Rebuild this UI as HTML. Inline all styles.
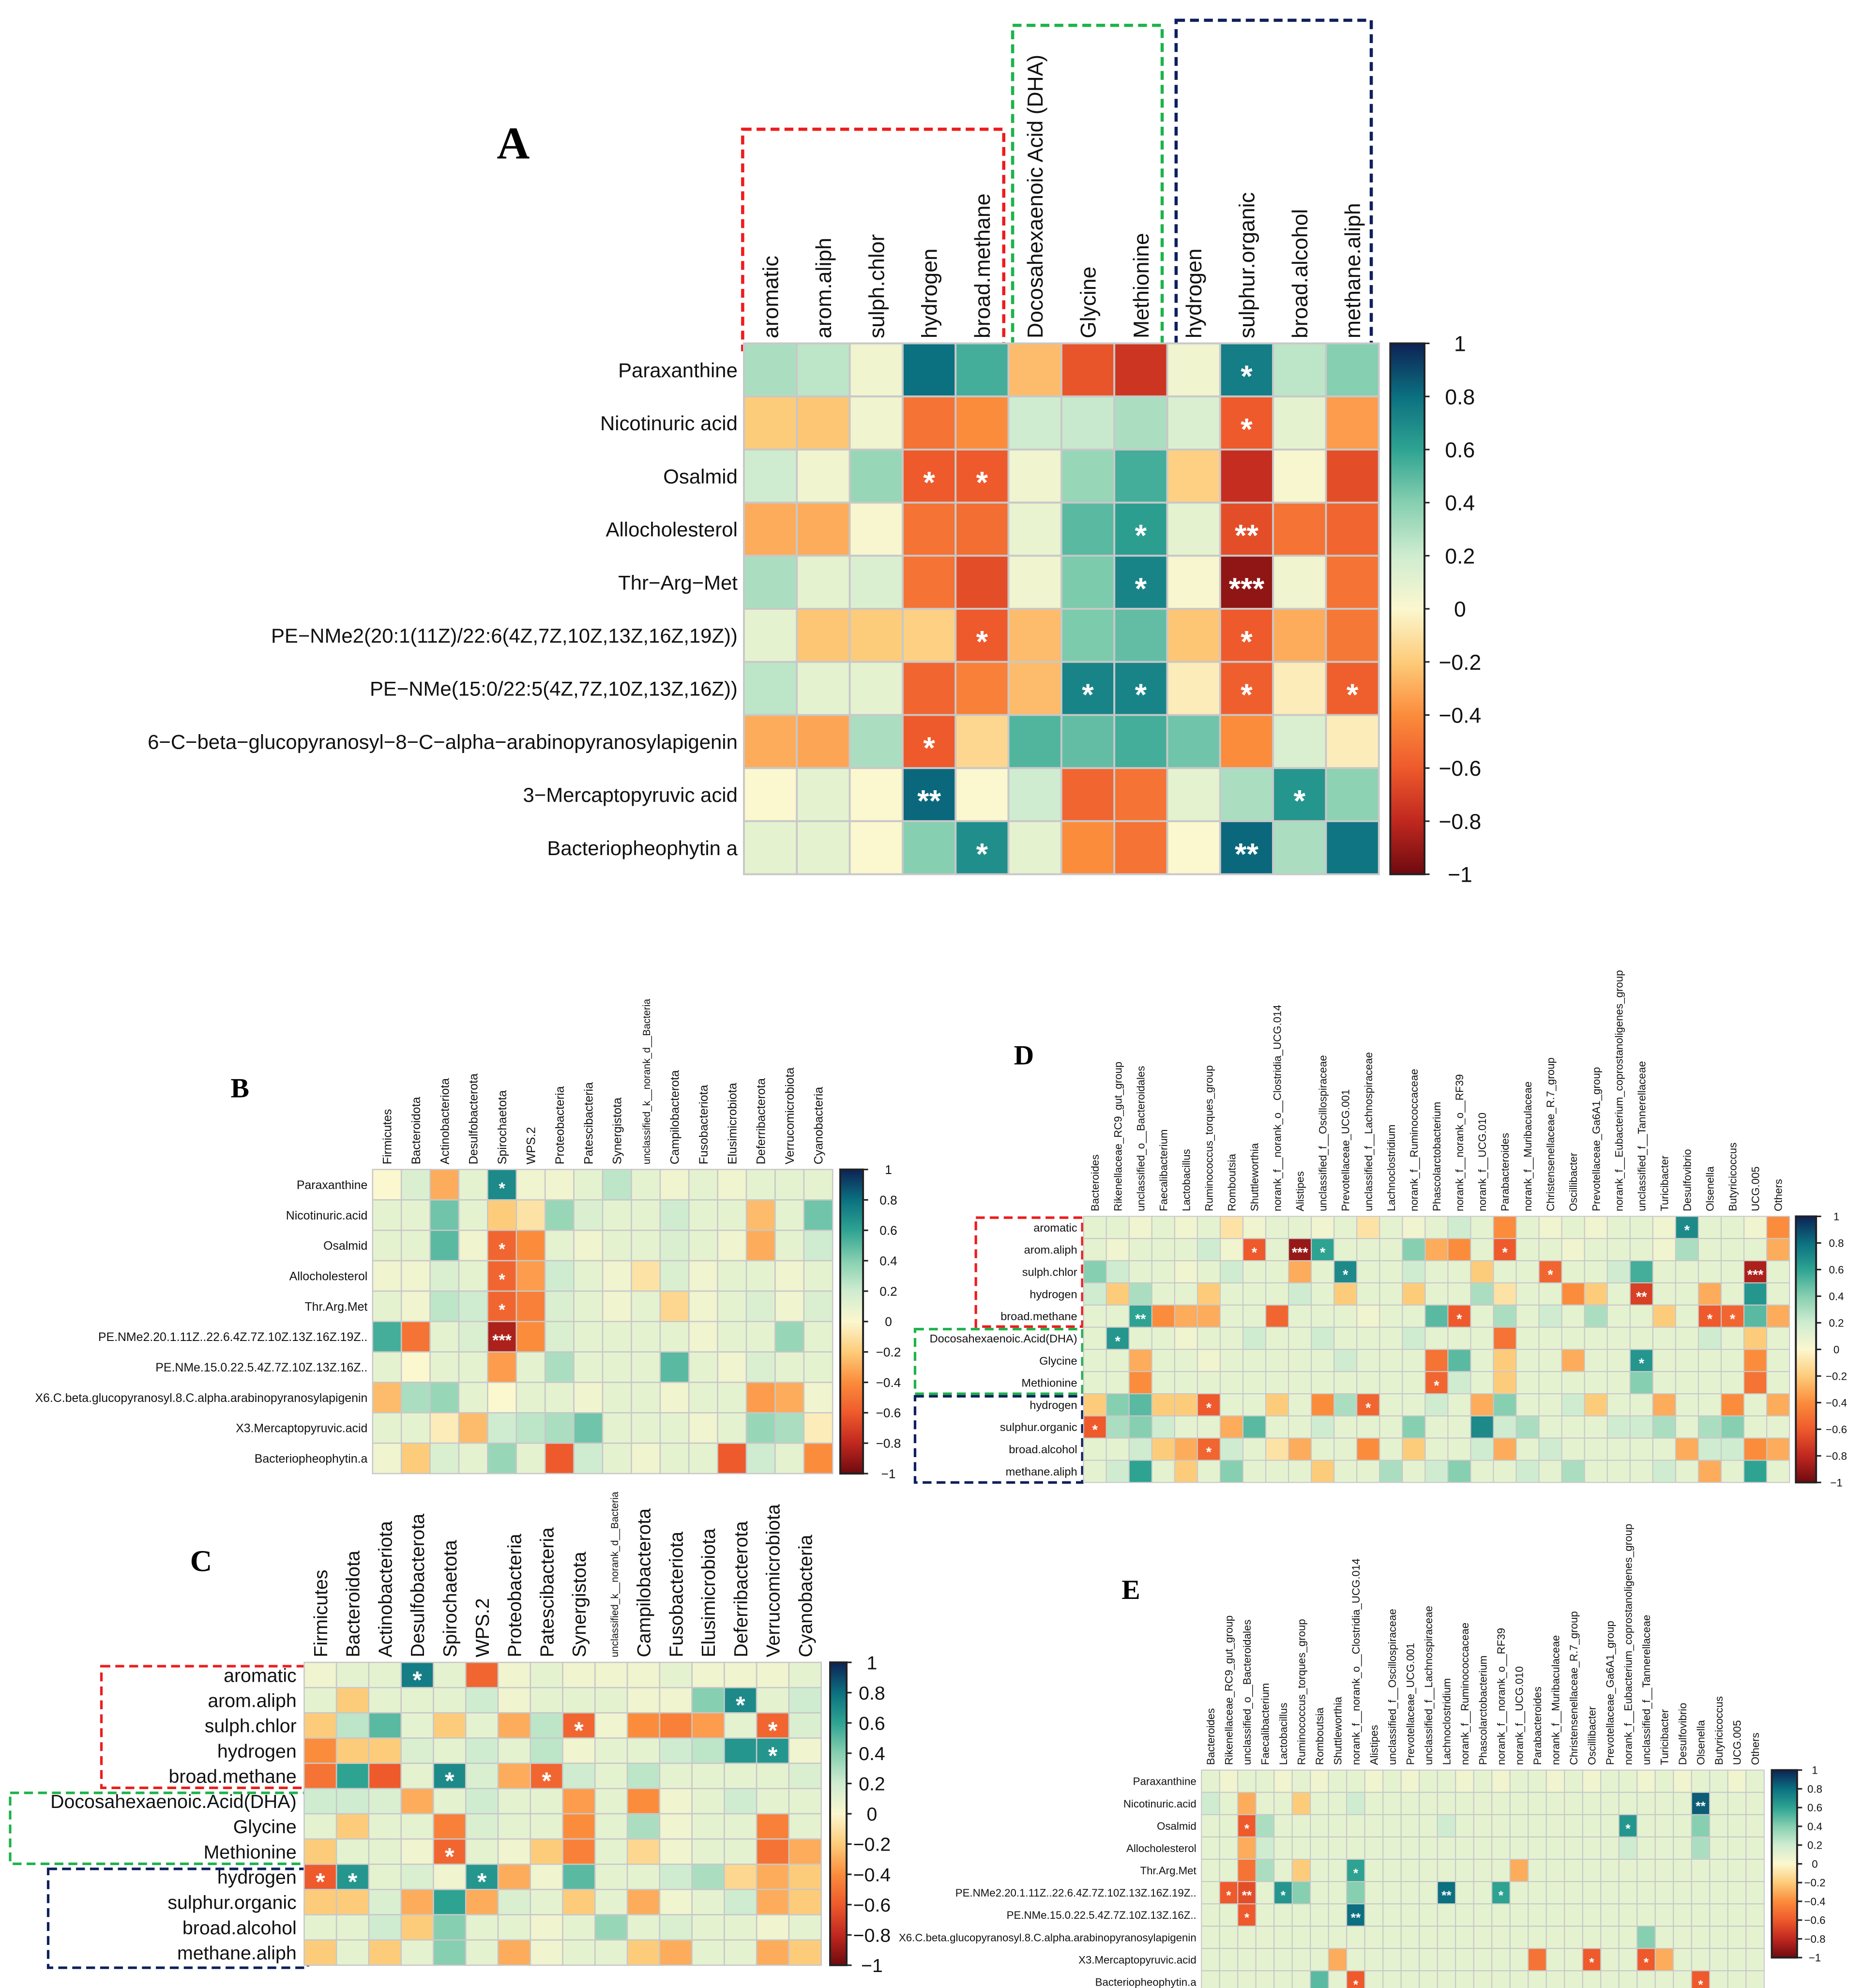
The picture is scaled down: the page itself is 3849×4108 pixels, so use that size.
<!DOCTYPE html>
<html><head><meta charset="utf-8"><style>
html,body{margin:0;padding:0;background:#fff}
svg{display:block}
text{font-family:"Liberation Sans",Arial,sans-serif}
</style></head><body>
<svg id="fig" xmlns="http://www.w3.org/2000/svg" width="3849" height="4108" viewBox="0 0 1470 1569" preserveAspectRatio="none">
<defs>
<linearGradient id="cmap" x1="0" y1="1" x2="0" y2="0">
<stop offset="0" stop-color="#6e0a0f"/><stop offset="0.1" stop-color="#c0281f"/><stop offset="0.2" stop-color="#ee5a2c"/><stop offset="0.3" stop-color="#fb8c3c"/><stop offset="0.4" stop-color="#fdcc7a"/><stop offset="0.5" stop-color="#fbf7cf"/><stop offset="0.6" stop-color="#cfecd0"/><stop offset="0.7" stop-color="#86cfb0"/><stop offset="0.8" stop-color="#2ea392"/><stop offset="0.9" stop-color="#0b7080"/><stop offset="1" stop-color="#0d2255"/>
</linearGradient>
</defs>
<text x="392" y="125" font-size="36" font-weight="bold" style="font-family:'Liberation Serif',serif">A</text>
<text x="182" y="866" font-size="22" font-weight="bold" style="font-family:'Liberation Serif',serif">B</text>
<text x="150" y="1240" font-size="24" font-weight="bold" style="font-family:'Liberation Serif',serif">C</text>
<text x="800" y="840" font-size="22" font-weight="bold" style="font-family:'Liberation Serif',serif">D</text>
<text x="885" y="1262" font-size="22" font-weight="bold" style="font-family:'Liberation Serif',serif">E</text>
<g fill="none" stroke-width="2.5" stroke-dasharray="7,4">
<rect x="586" y="102" width="206" height="174" stroke="#ee1c1c"/>
<rect x="799" y="20" width="118" height="256" stroke="#1db34a"/>
<rect x="928" y="16" width="154" height="260" stroke="#0d1f5c"/>
<rect x="80" y="1315" width="163" height="96" stroke="#ee1c1c" stroke-width="2"/>
<rect x="8" y="1415" width="235" height="56" stroke="#1db34a" stroke-width="2"/>
<rect x="38" y="1475" width="205" height="78" stroke="#0d1f5c" stroke-width="2"/>
<rect x="770" y="961" width="84" height="86" stroke="#ee1c1c" stroke-width="2"/>
<rect x="722" y="1049" width="132" height="51" stroke="#1db34a" stroke-width="2"/>
<rect x="722" y="1102" width="132" height="68" stroke="#0d1f5c" stroke-width="2"/>
</g>
<g id="plots"></g>
</svg>
<script>
// ---------- Panel A data ----------
const aCols=["aromatic","arom.aliph","sulph.chlor","hydrogen","broad.methane","Docosahexaenoic Acid (DHA)","Glycine","Methionine","hydrogen","sulphur.organic","broad.alcohol","methane.aliph"];
const aRows=["Paraxanthine","Nicotinuric acid","Osalmid","Allocholesterol","Thr\u2212Arg\u2212Met","PE\u2212NMe2(20:1(11Z)/22:6(4Z,7Z,10Z,13Z,16Z,19Z))","PE\u2212NMe(15:0/22:5(4Z,7Z,10Z,13Z,16Z))","6\u2212C\u2212beta\u2212glucopyranosyl\u22128\u2212C\u2212alpha\u2212arabinopyranosylapigenin","3\u2212Mercaptopyruvic acid","Bacteriopheophytin a"];
const aVals=[
[0.3,0.25,0.05,0.8,0.55,-0.25,-0.62,-0.75,0.05,0.75,0.25,0.4],
[-0.2,-0.22,0.05,-0.5,-0.4,0.2,0.22,0.3,0.15,-0.6,0.1,-0.35],
[0.2,0.05,0.35,-0.6,-0.6,0.05,0.35,0.55,-0.18,-0.78,0.02,-0.65],
[-0.3,-0.3,0.02,-0.5,-0.52,0.08,0.5,0.62,0.1,-0.65,-0.5,-0.55],
[0.3,0.1,0.15,-0.5,-0.65,0.05,0.42,0.72,0.02,-0.92,0.05,-0.5],
[0.1,-0.22,-0.2,-0.18,-0.6,-0.25,0.42,0.48,-0.22,-0.6,-0.3,-0.48],
[0.25,0.1,0.1,-0.55,-0.45,-0.25,0.72,0.72,-0.05,-0.58,-0.05,-0.58],
[-0.3,-0.32,0.3,-0.6,-0.15,0.52,0.48,0.55,0.45,-0.4,0.15,-0.05],
[0.0,0.1,0.0,0.82,0.0,0.2,-0.55,-0.5,0.1,0.3,0.65,0.38],
[0.1,0.1,0.0,0.4,0.68,0.1,-0.4,-0.5,0.0,0.82,0.3,0.78]];
const aSig=[[0,9,"*"],[1,9,"*"],[2,3,"*"],[2,4,"*"],[3,7,"*"],[3,9,"**"],[4,7,"*"],[4,9,"***"],[5,4,"*"],[5,9,"*"],[6,6,"*"],[6,7,"*"],[6,9,"*"],[6,11,"*"],[7,3,"*"],[8,3,"**"],[8,10,"*"],[9,4,"*"],[9,9,"**"]];
// ---------- Panel B data ----------
const bCols=["Firmicutes","Bacteroidota","Actinobacteriota","Desulfobacterota","Spirochaetota","WPS.2","Proteobacteria","Patescibacteria","Synergistota","unclassified_k__norank_d__Bacteria","Campilobacterota","Fusobacteriota","Elusimicrobiota","Deferribacterota","Verrucomicrobiota","Cyanobacteria"];
const bRows=["Paraxanthine","Nicotinuric.acid","Osalmid","Allocholesterol","Thr.Arg.Met","PE.NMe2.20.1.11Z..22.6.4Z.7Z.10Z.13Z.16Z.19Z..","PE.NMe.15.0.22.5.4Z.7Z.10Z.13Z.16Z..","X6.C.beta.glucopyranosyl.8.C.alpha.arabinopyranosylapigenin","X3.Mercaptopyruvic.acid","Bacteriopheophytin.a"];
const bVals=[
[0.0,0.15,-0.3,0.1,0.7,0.05,0.05,0.1,0.25,0.1,0.05,0.1,0.05,0.1,0.1,0.1],
[0.1,0.1,0.45,0.1,-0.2,-0.1,0.35,0.15,0.1,0.1,0.2,0.1,0.1,-0.25,0.1,0.45],
[0.1,0.1,0.5,0.05,-0.55,-0.4,0.1,0.05,0.1,0.1,0.15,0.1,0.05,-0.3,0.1,0.2],
[0.05,0.05,0.15,0.1,-0.55,-0.35,0.2,0.1,0.05,-0.1,0.15,0.05,0.1,0.1,0.05,0.1],
[0.1,0.05,0.25,0.2,-0.55,-0.45,0.15,0.1,0.05,0.1,-0.15,0.05,0.1,0.15,0.05,0.15],
[0.55,-0.5,0.1,0.15,-0.85,-0.4,0.15,0.1,0.1,0.1,0.1,0.05,0.1,0.1,0.35,0.1],
[0.1,0.0,0.1,0.1,-0.35,0.1,0.3,0.1,0.1,0.1,0.5,0.1,0.05,0.15,0.1,0.1],
[-0.25,0.3,0.35,0.1,0.0,0.1,0.1,0.05,0.1,0.1,0.05,0.1,0.1,-0.35,-0.3,0.05],
[0.1,0.1,-0.05,-0.25,0.2,0.25,0.3,0.45,0.1,0.1,0.1,0.05,0.1,0.35,0.3,-0.05],
[0.05,-0.2,0.15,0.1,0.35,0.1,-0.6,0.2,0.1,0.05,0.1,0.1,-0.6,0.2,0.1,-0.4]];
const bSig=[[0,4,"*"],[2,4,"*"],[3,4,"*"],[4,4,"*"],[5,4,"***"]];
// ---------- Panel C data ----------
const cCols=["Firmicutes","Bacteroidota","Actinobacteriota","Desulfobacterota","Spirochaetota","WPS.2","Proteobacteria","Patescibacteria","Synergistota","unclassified_k__norank_d__Bacteria","Campilobacterota","Fusobacteriota","Elusimicrobiota","Deferribacterota","Verrucomicrobiota","Cyanobacteria"];
const cRows=["aromatic","arom.aliph","sulph.chlor","hydrogen","broad.methane","Docosahexaenoic.Acid(DHA)","Glycine","Methionine","hydrogen","sulphur.organic","broad.alcohol","methane.aliph"];
const cVals=[
[0.05,0.1,0.1,0.75,0.1,-0.55,0.05,0.1,0.05,0.05,0.05,0.1,0.05,0.05,0.05,0.1],
[0.1,-0.2,0.1,0.1,0.1,0.2,0.05,0.1,0.1,0.1,0.05,0.05,0.4,0.7,0.1,0.2],
[-0.2,0.25,0.5,0.1,-0.2,0.1,-0.3,0.25,-0.55,0.05,-0.4,-0.45,-0.35,0.1,-0.55,0.15],
[-0.4,-0.2,-0.2,0.15,0.1,0.2,0.1,0.25,0.05,0.1,0.1,0.2,0.25,0.65,0.65,0.05],
[-0.5,0.6,-0.6,0.1,0.7,0.15,-0.3,-0.55,0.2,0.1,0.25,0.1,0.1,0.1,0.1,0.15],
[0.2,0.2,0.15,-0.3,0.1,0.2,0.1,0.1,-0.35,0.1,-0.4,0.05,0.1,0.2,0.1,0.1],
[0.1,-0.2,0.1,0.1,-0.45,0.15,0.1,0.1,-0.4,0.1,0.3,0.05,0.1,0.1,-0.45,0.1],
[-0.2,0.1,0.1,0.05,-0.55,0.1,0.05,-0.2,-0.45,0.1,-0.15,0.05,0.1,0.1,-0.5,-0.3],
[-0.6,0.65,0.1,0.15,0.05,0.65,-0.3,0.05,0.5,0.1,0.1,0.2,0.3,-0.15,-0.3,-0.2],
[-0.2,-0.2,0.15,-0.3,0.6,-0.3,0.15,0.1,-0.2,0.1,-0.3,0.05,0.1,0.2,-0.3,-0.2],
[0.1,0.1,0.2,-0.2,0.4,0.1,0.1,0.05,0.1,0.35,0.1,0.15,0.1,0.1,0.05,0.1],
[-0.2,0.1,-0.2,0.1,0.4,0.1,-0.3,0.05,0.1,0.1,-0.2,-0.3,0.1,0.1,-0.3,-0.2]];
const cSig=[[0,3,"*"],[1,13,"*"],[2,8,"*"],[2,14,"*"],[3,14,"*"],[4,4,"*"],[4,7,"*"],[7,4,"*"],[8,0,"*"],[8,1,"*"],[8,5,"*"]];
// ---------- Panel D data ----------
const dCols=["Bacteroides","Rikenellaceae_RC9_gut_group","unclassified_o__Bacteroidales","Faecalibacterium","Lactobacillus","Ruminococcus_torques_group","Romboutsia","Shuttleworthia","norank_f__norank_o__Clostridia_UCG.014","Alistipes","unclassified_f__Oscillospiraceae","Prevotellaceae_UCG.001","unclassified_f__Lachnospiraceae","Lachnoclostridium","norank_f__Ruminococcaceae","Phascolarctobacterium","norank_f__norank_o__RF39","norank_f__UCG.010","Parabacteroides","norank_f__Muribaculaceae","Christensenellaceae_R.7_group","Oscillibacter","Prevotellaceae_Ga6A1_group","norank_f__Eubacterium_coprostanoligenes_group","unclassified_f__Tannerellaceae","Turicibacter","Desulfovibrio","Olsenella","Butyricicoccus","UCG.005","Others"];
const dRows=["aromatic","arom.aliph","sulph.chlor","hydrogen","broad.methane","Docosahexaenoic.Acid(DHA)","Glycine","Methionine","hydrogen","sulphur.organic","broad.alcohol","methane.aliph"];
const dVals=[
[0.1,0.1,0.05,0.1,0.05,0.1,-0.1,0.05,0.1,0.1,0.05,0.1,-0.1,0.1,0.05,0.1,0.2,0.1,-0.4,0.1,0.05,0.1,0.05,0.1,0.1,0.05,0.7,0.1,0.1,0.05,-0.4],
[0.1,0.05,0.1,0.1,0.1,0.2,0.05,-0.6,0.1,-0.9,0.6,0.1,0.1,0.1,0.4,-0.3,-0.4,0.1,-0.6,0.1,0.1,0.05,0.1,0.1,0.1,0.05,0.3,0.1,0.1,0.1,-0.3],
[0.4,0.2,0.1,0.1,0.05,0.1,0.2,0.1,0.1,-0.3,0.1,0.7,0.1,0.1,0.2,0.1,0.1,-0.2,0.1,0.1,-0.55,0.1,0.1,0.2,0.55,0.1,0.1,0.1,0.1,-0.85,0.1],
[0.2,-0.2,0.3,0.1,0.1,-0.2,0.1,0.1,0.1,0.2,0.1,-0.2,0.1,0.1,-0.2,0.1,0.1,0.3,-0.1,0.1,0.1,-0.4,-0.2,0.1,-0.7,0.1,0.1,-0.3,0.1,0.65,0.1],
[0.1,0.1,0.6,-0.4,-0.3,-0.3,0.1,0.1,-0.55,0.1,0.1,0.1,0.05,0.1,0.1,0.5,-0.6,0.1,0.3,0.1,0.2,0.1,0.3,0.1,0.1,-0.2,0.1,-0.6,-0.55,0.5,-0.3],
[0.1,0.65,0.1,0.1,0.05,0.1,0.1,0.2,0.1,0.1,0.2,0.1,0.1,0.1,0.2,0.1,0.1,0.1,-0.5,0.1,0.1,0.1,0.1,0.1,0.1,0.1,0.1,0.2,0.1,-0.2,0.1],
[0.1,0.1,-0.3,0.1,0.1,0.05,0.1,0.1,0.1,0.1,0.1,0.2,0.1,0.1,0.1,-0.5,0.5,0.1,-0.2,0.1,0.1,-0.3,0.1,0.1,0.65,0.1,0.1,0.1,0.1,-0.4,0.1],
[0.1,0.1,-0.4,0.1,0.1,0.1,0.1,0.1,0.1,0.1,0.1,0.1,0.1,0.1,0.1,-0.55,0.2,0.1,-0.2,0.1,0.1,0.1,0.1,0.1,0.4,0.1,0.1,0.1,0.1,-0.5,0.1],
[-0.2,0.4,0.5,-0.2,-0.2,-0.6,0.1,0.1,-0.2,0.1,-0.4,0.3,-0.55,0.1,0.1,0.2,0.1,-0.3,0.4,0.1,0.1,0.2,-0.2,0.1,0.1,-0.3,0.1,0.1,-0.4,0.1,-0.3],
[-0.6,0.3,0.4,0.2,0.1,0.1,-0.3,0.5,0.1,0.1,0.2,0.1,0.1,0.1,0.4,0.1,0.1,0.7,0.2,0.3,0.1,0.1,0.1,0.2,0.2,0.3,0.1,0.3,0.4,0.1,0.1],
[0.1,0.1,0.2,-0.2,-0.3,-0.55,0.2,0.1,-0.1,-0.3,0.1,0.1,-0.4,0.1,-0.2,0.1,0.1,0.2,-0.3,0.1,0.2,0.1,0.1,0.1,0.1,0.1,-0.3,0.2,0.2,-0.4,-0.3],
[0.1,0.2,0.6,0.1,-0.2,0.1,0.4,0.1,0.1,0.1,-0.2,0.1,0.1,0.3,0.1,0.2,0.4,0.1,0.1,0.2,0.1,0.3,0.1,0.1,0.1,0.2,0.1,-0.3,0.1,0.6,0.1]];
const dSig=[[0,26,"*"],[1,7,"*"],[1,9,"***"],[1,10,"*"],[1,18,"*"],[2,11,"*"],[2,20,"*"],[2,29,"***"],[3,24,"**"],[4,2,"**"],[4,16,"*"],[4,27,"*"],[4,28,"*"],[5,1,"*"],[6,24,"*"],[7,15,"*"],[8,5,"*"],[8,12,"*"],[9,0,"*"],[10,5,"*"]];
// ---------- Panel E data ----------
const eCols=dCols;
const eRows=bRows;
const eVals=[
[0.1,0.05,0.1,0.1,0.05,0.1,0.05,0.1,0.1,0.05,0.1,0.05,0.1,0.1,0.05,0.1,0.05,0.1,0.1,0.05,0.1,0.05,0.1,0.1,0.05,0.1,0.05,0.1,0.1,0.05,0.1],
[0.2,0.1,-0.3,0.1,0.1,-0.2,0.1,0.1,0.2,0.1,0.1,0.1,0.1,0.1,0.1,0.1,0.1,0.1,0.1,0.1,0.1,0.1,0.1,0.1,0.1,0.1,0.1,0.85,0.1,0.1,0.1],
[0.1,0.1,-0.6,0.3,0.1,0.1,0.1,0.1,0.1,0.1,0.1,0.1,0.1,0.2,0.1,0.1,0.1,0.1,0.1,0.1,0.1,0.1,0.1,0.65,0.1,0.1,0.1,0.4,0.1,0.1,0.1],
[0.1,0.1,-0.3,0.2,0.1,0.1,0.1,0.1,0.1,0.1,0.1,0.1,0.1,0.1,0.1,0.1,0.1,0.1,0.1,0.1,0.1,0.1,0.1,0.2,0.1,0.1,0.1,0.3,0.1,0.1,0.1],
[0.1,0.1,-0.5,0.3,0.1,-0.2,0.1,0.1,0.6,0.1,0.1,0.1,0.1,0.1,0.1,0.1,0.1,-0.3,0.1,0.1,0.1,0.1,0.1,0.1,0.1,0.1,0.1,0.1,0.1,0.1,0.1],
[0.1,-0.6,-0.65,0.1,0.65,0.4,0.1,0.1,0.4,0.1,0.1,0.1,0.1,0.8,0.1,0.1,0.6,0.1,0.1,0.1,0.1,0.1,0.1,0.1,0.1,0.1,0.1,0.1,0.1,0.1,0.1],
[0.1,0.1,-0.6,0.1,0.1,0.1,0.1,0.1,0.8,0.1,0.1,0.1,0.1,0.1,0.1,0.1,0.1,0.1,0.1,0.1,0.1,0.1,0.1,0.1,0.1,0.1,0.1,0.1,0.1,0.1,0.1],
[0.1,0.1,0.1,0.1,0.1,0.1,0.1,0.1,0.1,0.1,0.1,0.1,0.1,0.1,0.1,0.1,0.1,0.1,0.1,0.1,0.1,0.1,0.1,0.1,0.4,0.1,0.1,0.1,0.1,0.1,0.1],
[0.1,0.1,0.1,0.1,0.1,0.1,0.1,-0.3,0.1,0.1,0.1,0.1,0.1,0.1,0.1,0.1,0.1,0.1,-0.5,0.1,0.1,-0.6,0.1,0.1,-0.6,-0.3,0.1,0.1,0.1,0.1,0.1],
[0.1,0.1,0.1,0.1,0.1,0.1,0.5,0.1,-0.6,0.1,0.1,0.1,0.1,0.1,0.1,0.1,0.1,0.1,0.1,0.1,0.1,0.1,0.1,0.1,0.1,0.1,0.1,-0.6,0.1,0.1,0.1]];
const eSig=[[1,27,"**"],[2,2,"*"],[2,23,"*"],[4,8,"*"],[5,1,"*"],[5,2,"**"],[5,4,"*"],[5,13,"**"],[5,16,"*"],[6,2,"*"],[6,8,"**"],[8,21,"*"],[8,24,"*"],[9,8,"*"],[9,27,"*"]];
const ticks=["1","0.8","0.6","0.4","0.2","0","\u22120.2","\u22120.4","\u22120.6","\u22120.8","\u22121"];

const NS="http://www.w3.org/2000/svg";
const stops=[[-1,[110,10,15]],[-0.8,[192,40,31]],[-0.6,[238,90,44]],[-0.4,[251,140,60]],[-0.2,[253,204,122]],[0,[251,247,207]],[0.2,[207,236,208]],[0.4,[134,207,176]],[0.6,[46,163,146]],[0.8,[11,112,128]],[1,[13,34,85]]];
function color(v){v=Math.max(-1,Math.min(1,v));for(let i=0;i<stops.length-1;i++){const[a,ca]=stops[i],[b,cb]=stops[i+1];if(v<=b){const t=(v-a)/(b-a);return "rgb("+ca.map((c,k)=>Math.round(c+(cb[k]-c)*t)).join(",")+")";}}return "rgb(13,34,85)";}
function mk(tag,attrs,parent){const e=document.createElementNS(NS,tag);for(const k in attrs)e.setAttribute(k,attrs[k]);parent.appendChild(e);return e;}
const root=document.getElementById("plots");

function heat(p,cols,rows,vals,sig,g){
  const G=mk("g",{},root);
  
  
  const cw=(g.x1-g.x0)/cols.length, rh=(g.y1-g.y0)/rows.length;
  const xs=j=>g.x0+j*cw, ys=i=>g.y0+i*rh;
  rows.forEach((r,i)=>{
    cols.forEach((c,j)=>{
      const rc=mk("rect",{x:xs(j),y:ys(i),width:cw,height:rh,fill:color(vals[i][j]),stroke:"#c8c8c8","stroke-width":g.sw},G);
      
      
    });
    const t=mk("text",{x:g.x0-g.rowGap,y:ys(i)+rh/2+g.rf*0.36,"font-size":g.rf,"text-anchor":"end",fill:"#111"},G);
    t.textContent=r;
    
    
  });
  cols.forEach((c,j)=>{
    const t=mk("text",{transform:"translate("+(xs(j)+cw/2+g.cf*0.36)+","+(g.y0-g.colGap)+") rotate(-90)","font-size":(g.cfFn?g.cfFn(c):g.cf),fill:"#111"},G);
    if(g.cond)t.setAttribute("style","font-stretch:condensed");
    t.textContent=c;
    
    
  });
  sig.forEach(s=>{
    const t=mk("text",{x:xs(s[1])+cw/2,y:ys(s[0])+rh/2+g.sf*0.55,"font-size":g.sf,"text-anchor":"middle",fill:"#fff","font-weight":"bold"},G);
    t.textContent=s[2];
    
    
  });
  const cb=mk("rect",{x:g.cbx,y:g.cby0,width:g.cbw,height:g.cby1-g.cby0,fill:"url(#cmap)",stroke:"#222","stroke-width":1.5},G);
  
  
  ticks.forEach((tk,k)=>{
    const y=g.cby0+k*(g.cby1-g.cby0)/(ticks.length-1);
    mk("line",{x1:g.cbx+g.cbw,x2:g.cbx+g.cbw+4,y1:y,y2:y,stroke:"#222","stroke-width":1.2},G);
    const t=mk("text",{x:g.cbx+g.cbw+g.tg,y:y+g.tf*0.36,"font-size":g.tf,"text-anchor":g.ta,fill:"#111"},G);
    t.textContent=tk;
    
    
  });
}
heat("a",aCols,aRows,aVals,aSig,{x0:587,x1:1088,y0:271,y1:690,sw:1.5,rf:16,rowGap:5,cf:17,colGap:4,sf:24,cbx:1097,cby0:271,cby1:690,cbw:27,tg:28,tf:17,ta:"middle"});
heat("b",bCols,bRows,bVals,bSig,{x0:294,x1:657,y0:923,y1:1163,sw:1,rf:9.5,rowGap:4,cf:9.5,colGap:4,sf:13,cbx:663,cby0:923,cby1:1163,cbw:18,tg:20,tf:10,ta:"middle",cfFn:c=>c.length>20?8:9.5});
heat("c",cCols,cRows,cVals,cSig,{x0:240,x1:648,y0:1312,y1:1551,sw:1,rf:15,rowGap:6,cf:15,colGap:4,sf:19,cbx:655,cby0:1312,cby1:1551,cbw:13,tg:20,tf:15,ta:"middle",cfFn:c=>c.length>20?8:15});
heat("d",dCols,dRows,dVals,dSig,{x0:855,x1:1412,y0:960,y1:1170,sw:0.8,rf:9,rowGap:5,cf:8.5,colGap:4,sf:11,cbx:1417,cby0:960,cby1:1170,cbw:16,tg:16,tf:8.5,ta:"middle"});
heat("e",eCols,eRows,eVals,eSig,{x0:948,x1:1392,y0:1397,y1:1573,sw:0.8,rf:8.5,rowGap:4,cf:8.5,colGap:4,sf:10,cbx:1398,cby0:1397,cby1:1545,cbw:20,tg:14,tf:8.5,ta:"middle"});
</script>
</body></html>
